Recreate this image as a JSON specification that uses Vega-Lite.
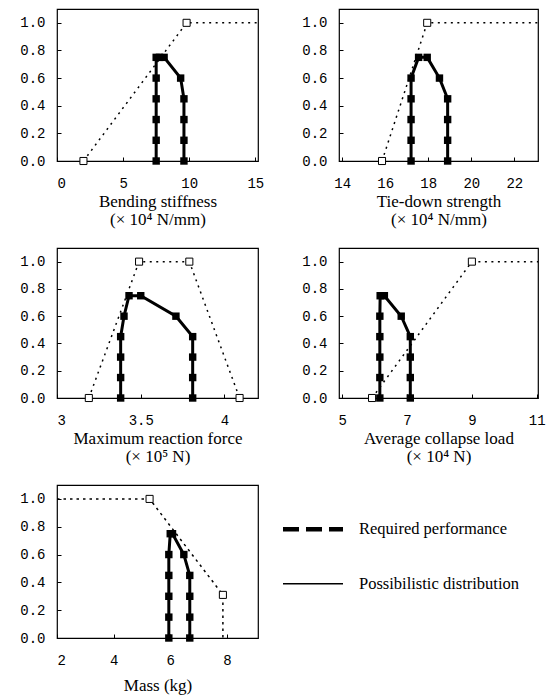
{
  "$schema": "https://vega.github.io/schema/vega-lite/v6.json",
  "background": "white",
  "padding": {"left": 19, "top": 8, "right": 5, "bottom": 5},
  "datasets": {
    "curves": [
      {"p": "p1", "s": "req", "o": 1, "x": 2.0, "y": 0, "bp": true},
      {"p": "p1", "s": "req", "o": 2, "x": 9.8, "y": 1.0, "bp": true},
      {"p": "p1", "s": "req", "o": 3, "x": 15.2, "y": 1.0, "bp": false},
      {"p": "p1", "s": "dist", "o": 1, "x": 7.5, "y": 0},
      {"p": "p1", "s": "dist", "o": 2, "x": 7.5, "y": 0.15},
      {"p": "p1", "s": "dist", "o": 3, "x": 7.5, "y": 0.3},
      {"p": "p1", "s": "dist", "o": 4, "x": 7.5, "y": 0.45},
      {"p": "p1", "s": "dist", "o": 5, "x": 7.5, "y": 0.6},
      {"p": "p1", "s": "dist", "o": 6, "x": 7.5, "y": 0.75},
      {"p": "p1", "s": "dist", "o": 7, "x": 7.75, "y": 0.75},
      {"p": "p1", "s": "dist", "o": 8, "x": 8.1, "y": 0.75},
      {"p": "p1", "s": "dist", "o": 9, "x": 9.35, "y": 0.6},
      {"p": "p1", "s": "dist", "o": 10, "x": 9.6, "y": 0.45},
      {"p": "p1", "s": "dist", "o": 11, "x": 9.6, "y": 0.3},
      {"p": "p1", "s": "dist", "o": 12, "x": 9.6, "y": 0.15},
      {"p": "p1", "s": "dist", "o": 13, "x": 9.6, "y": 0},

      {"p": "p2", "s": "req", "o": 1, "x": 15.85, "y": 0, "bp": true},
      {"p": "p2", "s": "req", "o": 2, "x": 17.95, "y": 1.0, "bp": true},
      {"p": "p2", "s": "req", "o": 3, "x": 23.1, "y": 1.0, "bp": false},
      {"p": "p2", "s": "dist", "o": 1, "x": 17.2, "y": 0},
      {"p": "p2", "s": "dist", "o": 2, "x": 17.2, "y": 0.15},
      {"p": "p2", "s": "dist", "o": 3, "x": 17.2, "y": 0.3},
      {"p": "p2", "s": "dist", "o": 4, "x": 17.2, "y": 0.45},
      {"p": "p2", "s": "dist", "o": 5, "x": 17.2, "y": 0.6},
      {"p": "p2", "s": "dist", "o": 6, "x": 17.55, "y": 0.75},
      {"p": "p2", "s": "dist", "o": 7, "x": 17.95, "y": 0.75},
      {"p": "p2", "s": "dist", "o": 8, "x": 18.52, "y": 0.6},
      {"p": "p2", "s": "dist", "o": 9, "x": 18.9, "y": 0.45},
      {"p": "p2", "s": "dist", "o": 10, "x": 18.9, "y": 0.3},
      {"p": "p2", "s": "dist", "o": 11, "x": 18.9, "y": 0.15},
      {"p": "p2", "s": "dist", "o": 12, "x": 18.9, "y": 0},

      {"p": "p3", "s": "req", "o": 1, "x": 3.19, "y": 0, "bp": true},
      {"p": "p3", "s": "req", "o": 2, "x": 3.49, "y": 1.0, "bp": true},
      {"p": "p3", "s": "req", "o": 3, "x": 3.79, "y": 1.0, "bp": true},
      {"p": "p3", "s": "req", "o": 4, "x": 4.09, "y": 0, "bp": true},
      {"p": "p3", "s": "dist", "o": 1, "x": 3.38, "y": 0},
      {"p": "p3", "s": "dist", "o": 2, "x": 3.38, "y": 0.15},
      {"p": "p3", "s": "dist", "o": 3, "x": 3.38, "y": 0.3},
      {"p": "p3", "s": "dist", "o": 4, "x": 3.38, "y": 0.45},
      {"p": "p3", "s": "dist", "o": 5, "x": 3.4, "y": 0.6},
      {"p": "p3", "s": "dist", "o": 6, "x": 3.43, "y": 0.75},
      {"p": "p3", "s": "dist", "o": 7, "x": 3.5, "y": 0.75},
      {"p": "p3", "s": "dist", "o": 8, "x": 3.71, "y": 0.6},
      {"p": "p3", "s": "dist", "o": 9, "x": 3.81, "y": 0.45},
      {"p": "p3", "s": "dist", "o": 10, "x": 3.81, "y": 0.3},
      {"p": "p3", "s": "dist", "o": 11, "x": 3.81, "y": 0.15},
      {"p": "p3", "s": "dist", "o": 12, "x": 3.81, "y": 0},

      {"p": "p4", "s": "req", "o": 1, "x": 5.92, "y": 0, "bp": true},
      {"p": "p4", "s": "req", "o": 2, "x": 9.0, "y": 1.0, "bp": true},
      {"p": "p4", "s": "req", "o": 3, "x": 11.04, "y": 1.0, "bp": false},
      {"p": "p4", "s": "dist", "o": 1, "x": 6.16, "y": 0},
      {"p": "p4", "s": "dist", "o": 2, "x": 6.16, "y": 0.15},
      {"p": "p4", "s": "dist", "o": 3, "x": 6.16, "y": 0.3},
      {"p": "p4", "s": "dist", "o": 4, "x": 6.16, "y": 0.45},
      {"p": "p4", "s": "dist", "o": 5, "x": 6.16, "y": 0.6},
      {"p": "p4", "s": "dist", "o": 6, "x": 6.17, "y": 0.75},
      {"p": "p4", "s": "dist", "o": 7, "x": 6.3, "y": 0.75},
      {"p": "p4", "s": "dist", "o": 8, "x": 6.82, "y": 0.6},
      {"p": "p4", "s": "dist", "o": 9, "x": 7.1, "y": 0.45},
      {"p": "p4", "s": "dist", "o": 10, "x": 7.1, "y": 0.3},
      {"p": "p4", "s": "dist", "o": 11, "x": 7.1, "y": 0.15},
      {"p": "p4", "s": "dist", "o": 12, "x": 7.1, "y": 0},

      {"p": "p5", "s": "req", "o": 1, "x": 2.0, "y": 1.0, "bp": false},
      {"p": "p5", "s": "req", "o": 2, "x": 5.27, "y": 1.0, "bp": true},
      {"p": "p5", "s": "req", "o": 3, "x": 7.86, "y": 0.31, "bp": true},
      {"p": "p5", "s": "req", "o": 4, "x": 7.86, "y": 0, "bp": false},
      {"p": "p5", "s": "dist", "o": 1, "x": 5.95, "y": 0},
      {"p": "p5", "s": "dist", "o": 2, "x": 5.95, "y": 0.15},
      {"p": "p5", "s": "dist", "o": 3, "x": 5.95, "y": 0.3},
      {"p": "p5", "s": "dist", "o": 4, "x": 5.95, "y": 0.45},
      {"p": "p5", "s": "dist", "o": 5, "x": 5.95, "y": 0.6},
      {"p": "p5", "s": "dist", "o": 6, "x": 6.0, "y": 0.75},
      {"p": "p5", "s": "dist", "o": 7, "x": 6.08, "y": 0.75},
      {"p": "p5", "s": "dist", "o": 8, "x": 6.48, "y": 0.6},
      {"p": "p5", "s": "dist", "o": 9, "x": 6.69, "y": 0.45},
      {"p": "p5", "s": "dist", "o": 10, "x": 6.69, "y": 0.3},
      {"p": "p5", "s": "dist", "o": 11, "x": 6.69, "y": 0.15},
      {"p": "p5", "s": "dist", "o": 12, "x": 6.69, "y": 0}
    ],
    "legend": [
      {"item": "Required performance", "k": 1},
      {"item": "Possibilistic distribution", "k": 2}
    ]
  },
  "bounds": "flush",
  "columns": 2,
  "spacing": {"row": 87, "column": 81},
  "concat": [
    {
      "width": 201, "height": 152,
      "data": {"name": "curves"},
      "transform": [{"filter": "datum.p == 'p1'"}],
      "encoding": {
        "x": {"field": "x", "type": "quantitative", "scale": {"domain": [0, 15.2], "nice": false, "zero": false},
              "axis": {"values": [0, 5, 10, 15], "labelExpr": "'' + datum.value", "title": ["Bending stiffness", "(× 10⁴ N/mm)"]}},
        "y": {"field": "y", "type": "quantitative", "scale": {"domain": [0, 1.1], "nice": false},
              "axis": {"values": [0, 0.2, 0.4, 0.6, 0.8, 1.0], "format": ".1f", "title": null}},
        "order": {"field": "o"}
      },
      "layer": [
        {"transform": [{"filter": "datum.s == 'req'"}], "mark": {"type": "line", "color": "black", "strokeWidth": 1.5, "strokeDash": [2, 4.5], "clip": true}},
        {"transform": [{"filter": "datum.s == 'req' && datum.bp"}], "mark": {"type": "square", "fill": "white", "stroke": "black", "strokeWidth": 1, "size": 50, "opacity": 1}},
        {"transform": [{"filter": "datum.s == 'dist'"}], "mark": {"type": "line", "color": "black", "strokeWidth": 3}},
        {"transform": [{"filter": "datum.s == 'dist'"}], "mark": {"type": "square", "filled": true, "color": "black", "size": 55, "opacity": 1}}
      ]
    },
    {
      "width": 199, "height": 152,
      "data": {"name": "curves"},
      "transform": [{"filter": "datum.p == 'p2'"}],
      "encoding": {
        "x": {"field": "x", "type": "quantitative", "scale": {"domain": [13.85, 23.1], "nice": false, "zero": false},
              "axis": {"values": [14, 16, 18, 20, 22], "labelExpr": "'' + datum.value", "title": ["Tie-down strength", "(× 10⁴ N/mm)"]}},
        "y": {"field": "y", "type": "quantitative", "scale": {"domain": [0, 1.1], "nice": false},
              "axis": {"values": [0, 0.2, 0.4, 0.6, 0.8, 1.0], "format": ".1f", "title": null}},
        "order": {"field": "o"}
      },
      "layer": [
        {"transform": [{"filter": "datum.s == 'req'"}], "mark": {"type": "line", "color": "black", "strokeWidth": 1.5, "strokeDash": [2, 4.5], "clip": true}},
        {"transform": [{"filter": "datum.s == 'req' && datum.bp"}], "mark": {"type": "square", "fill": "white", "stroke": "black", "strokeWidth": 1, "size": 50, "opacity": 1}},
        {"transform": [{"filter": "datum.s == 'dist'"}], "mark": {"type": "line", "color": "black", "strokeWidth": 3}},
        {"transform": [{"filter": "datum.s == 'dist'"}], "mark": {"type": "square", "filled": true, "color": "black", "size": 55, "opacity": 1}}
      ]
    },
    {
      "width": 201, "height": 150,
      "data": {"name": "curves"},
      "transform": [{"filter": "datum.p == 'p3'"}],
      "encoding": {
        "x": {"field": "x", "type": "quantitative", "scale": {"domain": [3, 4.2], "nice": false, "zero": false},
              "axis": {"values": [3, 3.5, 4], "labelExpr": "'' + datum.value", "title": ["Maximum reaction force", "(× 10⁵ N)"]}},
        "y": {"field": "y", "type": "quantitative", "scale": {"domain": [0, 1.1], "nice": false},
              "axis": {"values": [0, 0.2, 0.4, 0.6, 0.8, 1.0], "format": ".1f", "title": null}},
        "order": {"field": "o"}
      },
      "layer": [
        {"transform": [{"filter": "datum.s == 'req'"}], "mark": {"type": "line", "color": "black", "strokeWidth": 1.5, "strokeDash": [2, 4.5], "clip": true}},
        {"transform": [{"filter": "datum.s == 'req' && datum.bp"}], "mark": {"type": "square", "fill": "white", "stroke": "black", "strokeWidth": 1, "size": 50, "opacity": 1}},
        {"transform": [{"filter": "datum.s == 'dist'"}], "mark": {"type": "line", "color": "black", "strokeWidth": 3}},
        {"transform": [{"filter": "datum.s == 'dist'"}], "mark": {"type": "square", "filled": true, "color": "black", "size": 55, "opacity": 1}}
      ]
    },
    {
      "width": 199, "height": 150,
      "data": {"name": "curves"},
      "transform": [{"filter": "datum.p == 'p4'"}],
      "encoding": {
        "x": {"field": "x", "type": "quantitative", "scale": {"domain": [4.9, 11.04], "nice": false, "zero": false},
              "axis": {"values": [5, 7, 9, 11], "labelExpr": "'' + datum.value", "title": ["Average collapse load", "(× 10⁴ N)"]}},
        "y": {"field": "y", "type": "quantitative", "scale": {"domain": [0, 1.1], "nice": false},
              "axis": {"values": [0, 0.2, 0.4, 0.6, 0.8, 1.0], "format": ".1f", "title": null}},
        "order": {"field": "o"}
      },
      "layer": [
        {"transform": [{"filter": "datum.s == 'req'"}], "mark": {"type": "line", "color": "black", "strokeWidth": 1.5, "strokeDash": [2, 4.5], "clip": true}},
        {"transform": [{"filter": "datum.s == 'req' && datum.bp"}], "mark": {"type": "square", "fill": "white", "stroke": "black", "strokeWidth": 1, "size": 50, "opacity": 1}},
        {"transform": [{"filter": "datum.s == 'dist'"}], "mark": {"type": "line", "color": "black", "strokeWidth": 3}},
        {"transform": [{"filter": "datum.s == 'dist'"}], "mark": {"type": "square", "filled": true, "color": "black", "size": 55, "opacity": 1}}
      ]
    },
    {
      "width": 201, "height": 153,
      "data": {"name": "curves"},
      "transform": [{"filter": "datum.p == 'p5'"}],
      "encoding": {
        "x": {"field": "x", "type": "quantitative", "scale": {"domain": [2, 9.1], "nice": false, "zero": false},
              "axis": {"values": [2, 4, 6, 8], "labelExpr": "'' + datum.value", "title": "Mass (kg)", "titlePadding": 10}},
        "y": {"field": "y", "type": "quantitative", "scale": {"domain": [0, 1.1], "nice": false},
              "axis": {"values": [0, 0.2, 0.4, 0.6, 0.8, 1.0], "format": ".1f", "title": null}},
        "order": {"field": "o"}
      },
      "layer": [
        {"transform": [{"filter": "datum.s == 'req'"}], "mark": {"type": "line", "color": "black", "strokeWidth": 1.5, "strokeDash": [2.5, 4], "clip": true}},
        {"transform": [{"filter": "datum.s == 'req' && datum.bp"}], "mark": {"type": "square", "fill": "white", "stroke": "black", "strokeWidth": 1, "size": 50, "opacity": 1}},
        {"transform": [{"filter": "datum.s == 'dist'"}], "mark": {"type": "line", "color": "black", "strokeWidth": 3}},
        {"transform": [{"filter": "datum.s == 'dist'"}], "mark": {"type": "square", "filled": true, "color": "black", "size": 55, "opacity": 1}}
      ]
    },
    {
      "width": 199, "height": 153,
      "view": {"stroke": null},
      "data": {"name": "legend"},
      "encoding": {
        "y": {"field": "k", "type": "quantitative", "scale": {"domain": [0.185, 3.0], "reverse": true, "nice": false, "zero": false}, "axis": null}
      },
      "layer": [
        {
          "mark": {"type": "rule", "color": "black"},
          "encoding": {
            "x": {"datum": 0, "type": "quantitative", "scale": {"domain": [2.8, 12.75], "nice": false, "zero": false}, "axis": null},
            "x2": {"datum": 3},
            "strokeDash": {"field": "item", "type": "nominal", "scale": {"domain": ["Required performance", "Possibilistic distribution"], "range": [[16, 7], [1, 0]]}, "legend": null},
            "strokeWidth": {"field": "item", "type": "nominal", "scale": {"domain": ["Required performance", "Possibilistic distribution"], "range": [4.5, 1.5]}, "legend": null}
          }
        },
        {
          "mark": {"type": "text", "align": "left", "baseline": "middle", "font": "Liberation Serif", "fontSize": 16.5, "color": "black"},
          "encoding": {
            "x": {"datum": 3.8, "type": "quantitative"},
            "text": {"field": "item"}
          }
        }
      ]
    }
  ],
  "config": {
    "view": {"stroke": "black", "strokeWidth": 1.2},
    "axis": {
      "grid": false, "domain": false,
      "ticks": true, "tickSize": -4, "tickColor": "black", "tickWidth": 1,
      "labelFont": "Liberation Mono", "labelFontSize": 14, "labelColor": "black",
      "titleFont": "Liberation Serif", "titleFontSize": 17, "titleFontWeight": "normal", "titleColor": "black"
    },
    "axisX": {"labelPadding": 19, "titlePadding": 3, "titleLineHeight": 18},
    "axisY": {"labelPadding": 16}
  }
}
